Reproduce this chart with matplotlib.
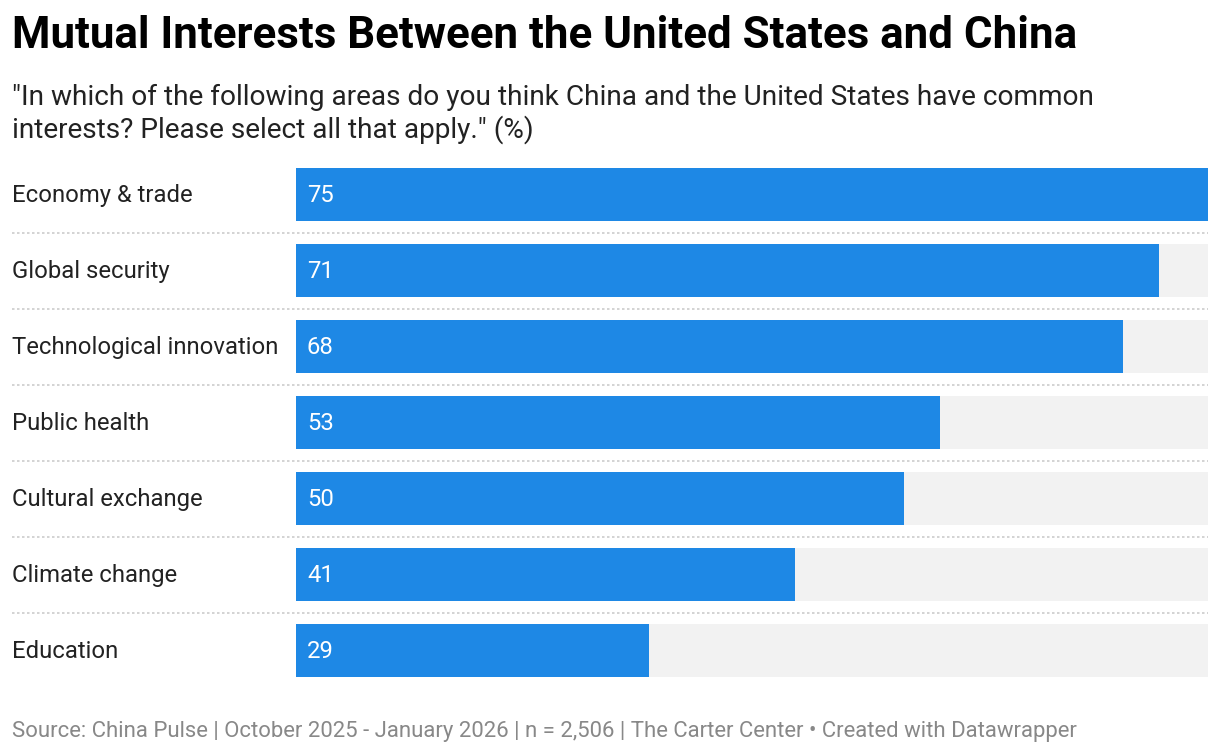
import matplotlib
matplotlib.use("Agg")
import matplotlib.pyplot as plt

categories = ["Economy & trade", "Global security", "Technological innovation",
              "Public health", "Cultural exchange", "Climate change", "Education"]
values = [75, 71, 68, 53, 50, 41, 29]
max_value = 75

title = "Mutual Interests Between the United States and China"
subtitle = ("\"In which of the following areas do you think China and the United States have common\n"
            "interests? Please select all that apply.\" (%)")
footer = ("Source: China Pulse | October 2025 - January 2026 | n = 2,506 | The Carter Center "
          "\u2022 Created with Datawrapper")

plt.rcParams['font.family'] = ['Roboto', 'DejaVu Sans']

W, H = 1220, 754
fig = plt.figure(figsize=(W / 100, H / 100), dpi=100)
fig.patch.set_facecolor("white")

def fx(px):
    return px / W

def fy(py):
    return 1 - py / H

top, bottom = 156.5, 688.5
bar_left, bar_right = 296, 1208
label_left = 12

ax_bg = fig.add_axes([fx(label_left), fy(bottom), fx(bar_right - label_left), (bottom - top) / H])
ax_bg.set_xlim(label_left, bar_right)
ax_bg.set_ylim(len(categories) - 0.5, -0.5)
ax_bg.axis("off")
for i in range(len(categories) - 1):
    ax_bg.plot([label_left, bar_right], [i + 0.5, i + 0.5], color="#cccccc",
               lw=1.2, ls=(0, (1.5, 1.5)), solid_capstyle="butt")
for i, c in enumerate(categories):
    ax_bg.annotate(c, (label_left, i), xytext=(0, -1), textcoords="offset points",
                   ha="left", va="center", fontsize=17.2, color="#222222")

ax = fig.add_axes([fx(bar_left), fy(bottom), fx(bar_right - bar_left), (bottom - top) / H])
ax.patch.set_alpha(0)
ax.set_xlim(0, max_value)
ax.set_ylim(len(categories) - 0.5, -0.5)
ax.axis("off")
ypos = list(range(len(categories)))
bh = 53 / 76
ax.barh(ypos, [max_value] * len(values), height=bh, color="#f2f2f2", lw=0)
ax.barh(ypos, values, height=bh, color="#1e88e5", lw=0)
for y, v in zip(ypos, values):
    ax.annotate(str(v), (0, y), xytext=(11 * 0.72, -1), textcoords="offset points",
                ha="left", va="center", fontsize=17.2, color="white")

fig.text(fx(12), fy(36), title, fontsize=31.6, fontweight="bold", color="#000000",
         ha="left", va="center")
fig.text(fx(12), fy(114), subtitle, fontsize=20.15, color="#222222", ha="left",
         va="center", linespacing=1.2)
fig.text(fx(12), fy(731), footer, fontsize=15.9, color="#888888", ha="left", va="center")

fig.savefig("out.png", dpi=100, facecolor="white")
